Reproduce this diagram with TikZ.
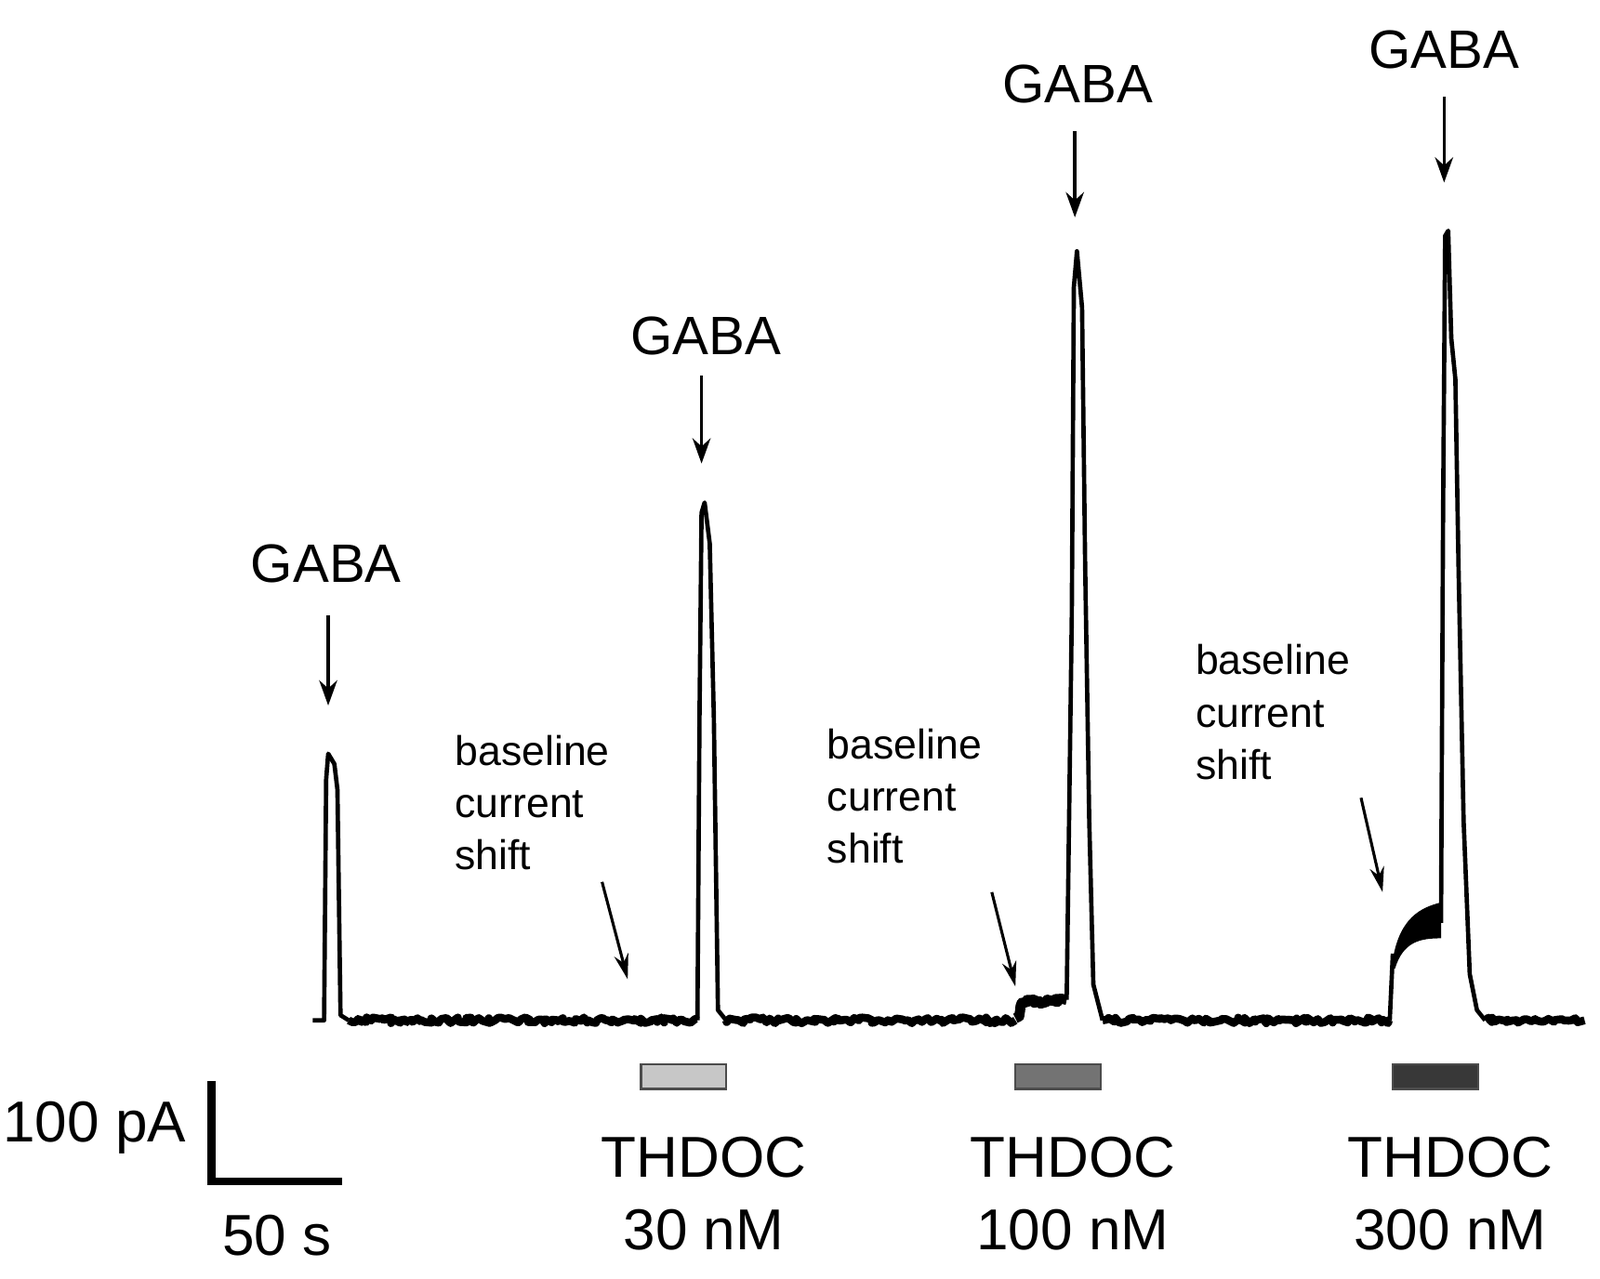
\documentclass[tikz,border=0pt]{standalone}
\usepackage{fontspec}
\setmainfont{Liberation Sans}
\usetikzlibrary{decorations.pathmorphing,arrows.meta}
\begin{document}
\begin{tikzpicture}[x=0.01cm,y=-0.01cm,
  lbl/.style={font=\fontsize{15}{15}\selectfont,inner sep=0pt},
  big/.style={font=\fontsize{16}{20}\selectfont,inner sep=0pt,align=center},
  small/.style={font=\fontsize{11.5}{14.5}\selectfont,inner sep=0pt,align=left,anchor=north west},
  garr/.style={-{Stealth[length=7pt,width=5pt]},line width=0.9pt},
  sarr/.style={-{Stealth[length=7pt,width=4pt]},line width=0.8pt},
  trace/.style={line width=2.2pt,line join=round,decorate,decoration={random steps,segment length=0.8pt,amplitude=0.8pt}},
  bar/.style={draw=black!70,line width=0.6pt}]
\useasboundingbox (0,0) rectangle (1560,1247);
% trace
\draw[line width=1.2pt,line join=round] (305,995) -- (316,995) -- (318,760) -- (320,735) -- (326,745) -- (329,770) -- (332,990) -- (340,995);
\draw[trace] (340,995) -- (680,995);
\draw[line width=1.2pt,line join=round] (680,995) -- (682,700) -- (684,500) -- (687,490) -- (692,530) -- (696,700) -- (700,985) -- (708,995);
\draw[trace] (708,995) -- (990,995);
\draw[trace,line width=2.8pt] (990,993) -- (998,978) -- (1040,975);
\draw[line width=1.2pt,line join=round] (1040,975) -- (1045,600) -- (1047,280) -- (1050,245) -- (1055,300) -- (1058,550) -- (1062,800) -- (1066,960) -- (1075,995);
\draw[trace] (1075,995) -- (1355,995);
\draw[line width=1.2pt] (1355,995) -- (1358,930);
\fill (1358,935) .. controls (1365,895) and (1385,885) .. (1405,880) -- (1405,915) .. controls (1385,915) and (1368,918) .. (1360,945) -- cycle;
\draw[line width=1.2pt,line join=round] (1405,900) -- (1407,500) -- (1409,230) -- (1412,225) -- (1415,330) -- (1419,370) -- (1422,550) -- (1427,800) -- (1433,950) -- (1440,985) -- (1448,995);
\draw[trace] (1448,995) -- (1545,995);
% GABA labels and arrows
\node[lbl] (g1) at (318,550) {GABA};
\node[lbl] (g2) at (688,328) {GABA};
\node[lbl] (g3) at (1051,82) {GABA};
\node[lbl] (g4) at (1408,48) {GABA};
\coordinate (p1) at (320,688); \coordinate (p2) at (684,452);
\coordinate (p3) at (1048,212); \coordinate (p4) at (1408,178);
\draw[garr] (320,600) -- (p1);
\draw[garr] (684,366) -- (p2);
\draw[garr] (1048,128) -- (p3);
\draw[garr] (1408,94) -- (p4);
% baseline notes
\node[small] (b1) at (443,716) {baseline\\current\\shift};
\node[small] (b2) at (806,710) {baseline\\current\\shift};
\node[small] (b3) at (1165,628) {baseline\\current\\shift};
\coordinate (s1) at (612,955); \coordinate (s2) at (990,962); \coordinate (s3) at (1348,870);
\draw[sarr] (587,860) -- (s1);
\draw[sarr] (967,870) -- (s2);
\draw[sarr] (1327,778) -- (s3);
% bars
\draw[bar,fill=black!22] (625,1038) rectangle (708,1062);
\draw[bar,fill=black!55] (990,1038) rectangle (1073,1062);
\draw[bar,fill=black!78] (1358,1038) rectangle (1441,1062);
\node[big] (t1) at (686,1164) {THDOC\\30 nM};
\node[big] (t2) at (1046,1164) {THDOC\\100 nM};
\node[big] (t3) at (1414,1164) {THDOC\\300 nM};
% scale bar
\coordinate (sa) at (206,1054); \coordinate (sb) at (206,1152); \coordinate (sc) at (334,1152);
\draw[line width=2.2pt] (sa) -- (sb) -- (sc);
\node[big,anchor=east] (pa) at (182,1100) {100 pA};
\node[big] (ss) at (270,1205) {50 s};
\end{tikzpicture}
\end{document}
